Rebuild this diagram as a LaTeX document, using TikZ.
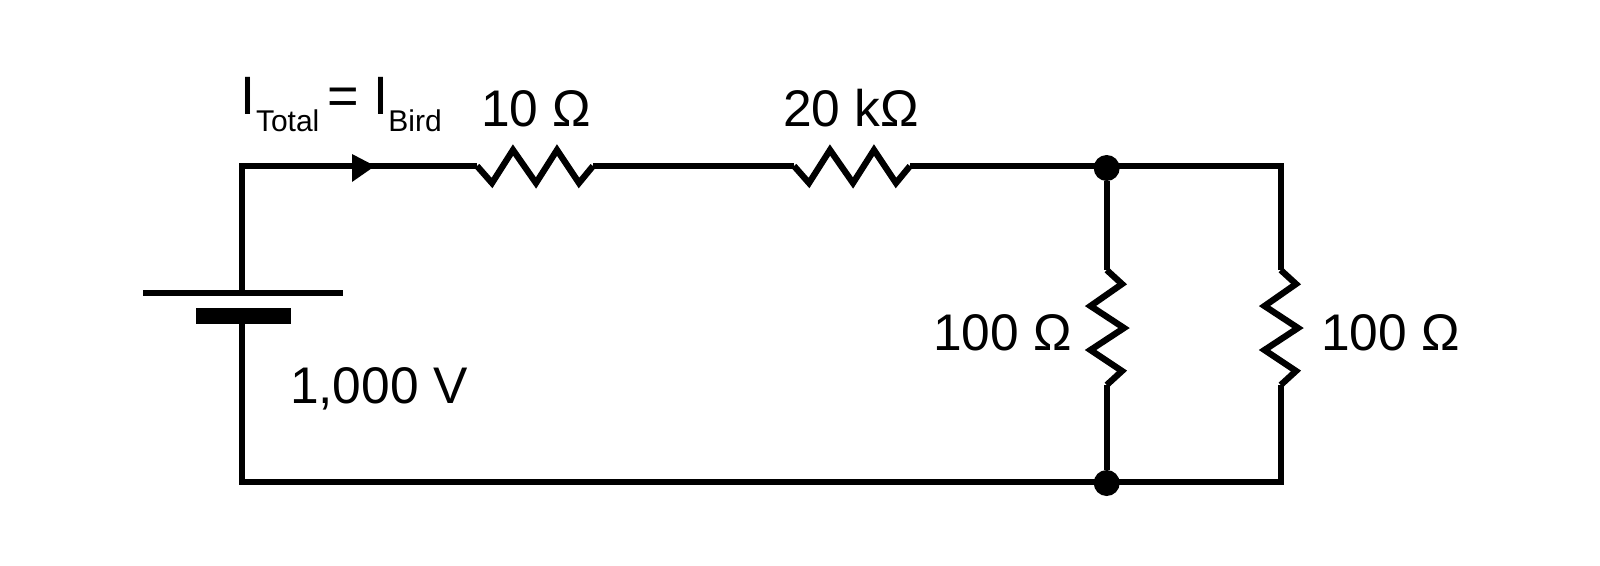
\documentclass[tikz,border=0pt]{standalone}
\usepackage{fontspec}
\setmainfont{Liberation Sans}
\newcommand{\bigtxt}{\fontsize{51.5}{56}\selectfont}
\newcommand{\captxt}{\fontsize{54}{58}\selectfont}
\newcommand{\subtxt}{\fontsize{30}{32}\selectfont}
\tikzset{
  wire/.style={draw=black,line width=6.3pt,line join=miter,line cap=butt},
  lbl/.style={anchor=base west,inner sep=0pt,outer sep=0pt,font=\bigtxt,text=black},
  junction/.style={circle,fill=black,draw=none,minimum size=26pt,inner sep=0pt},
  plate/.style={rectangle,fill=black,draw=none,inner sep=0pt}
}
\begin{document}
\begin{tikzpicture}[x=1pt,y=-1pt]
\useasboundingbox (0,0) rectangle (1600,565);
\fill[white] (0,0) rectangle (1600,565);
% corners and terminals
\coordinate (tl) at (242.3,166);
\coordinate (tr) at (1280.7,166);
\coordinate (bl) at (242.3,481.7);
\coordinate (br) at (1280.7,481.7);
\coordinate (batpos) at (242.3,292.7);
\coordinate (r1a) at (477,166);
\coordinate (r1b) at (593,166);
\coordinate (r2a) at (794,166);
\coordinate (r2b) at (910,166);
\coordinate (r3a) at (1106.7,270);
\coordinate (r3b) at (1106.7,385);
\coordinate (r4a) at (1280.7,270);
\coordinate (r4b) at (1280.7,385);
\node[junction] (jt) at (1106.7,168) {};
\node[junction] (jb) at (1106.7,483) {};
% battery
\coordinate (longl) at (143,292.7);
\coordinate (longr) at (343,292.7);
\node[plate,minimum width=95pt,minimum height=16pt] (short) at (243.5,316) {};
\draw[wire] (longl) -- (longr);
% wires
\draw[wire] (batpos) -- (tl) -- (r1a);
\draw[wire] (r1b) -- (r2a);
\draw[wire] (r2b) -- (tr) -- (r4a);
\draw[wire] (r4b) -- (br) -- (bl) -- (short.south -| bl);
\draw[wire] (jt) -- (r3a);
\draw[wire] (r3b) -- (jb);
% resistors
\draw[wire] (r1a) -- ++(15,17) -- ++(21,-33) -- ++(23,33) -- ++(21,-33) -- ++(22,33) -- (r1b);
\draw[wire] (r2a) -- ++(15,17) -- ++(21,-33) -- ++(23,33) -- ++(21,-33) -- ++(22,33) -- (r2b);
\draw[wire] (r3a) -- ++(15.3,14) -- ++(-31.5,22) -- ++(33.5,22) -- ++(-33.5,22) -- ++(31.5,21) -- (r3b);
\draw[wire] (r4a) -- ++(15.3,14) -- ++(-31.5,22) -- ++(33.5,22) -- ++(-33.5,22) -- ++(31.5,21) -- (r4b);
% arrowhead
\coordinate (arrowtip) at (375,166);
\fill[black] (arrowtip) -- (352,154) -- (352,182) -- cycle;
% labels
\node[lbl] (itotal) at (240,114) {\captxt I\kern1pt\raisebox{-17pt}{\subtxt Total}\kern8pt= I\kern-0.5pt\raisebox{-17pt}{\subtxt Bird}};
\node[lbl] (l10) at (481,126) {10 Ω};
\node[lbl] (l20) at (783,126) {20 kΩ};
\node[lbl] (l100a) at (933,350) {100 Ω};
\node[lbl] (l100b) at (1321,350) {100 Ω};
\node[lbl] (lv) at (290,403) {1,000 V};
\end{tikzpicture}
\end{document}
